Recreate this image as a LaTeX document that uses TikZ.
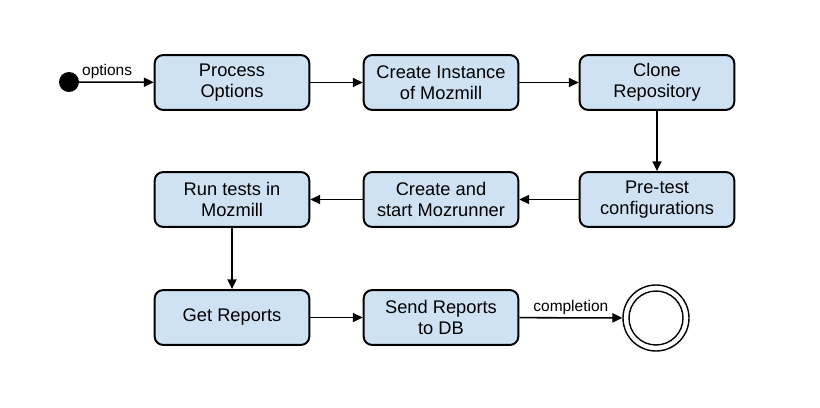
\documentclass[tikz,border=0pt]{standalone}
\usepackage{fontspec}
\setmainfont{Liberation Sans}
\usepackage{xcolor}
\usetikzlibrary{arrows.meta}
\definecolor{boxblue}{HTML}{CFE2F3}
\tikzset{every node/.append style={font=\fontsize{13}{15}\selectfont}}
\tikzset{
  stepbox/.style={draw, line width=1.4pt, fill=boxblue, rounded corners=6pt,
    minimum width=110pt, minimum height=39pt, align=center, inner sep=2pt},
  flow/.style={-{Triangle[length=7pt,width=6.5pt]}, line width=1.1pt},
  tag/.style={font=\fontsize{11}{13}\selectfont}
}

\begin{document}
\begin{tikzpicture}[x=0.025cm, y=-0.025cm]
    \useasboundingbox (0,0) rectangle (820,407);
    % start and end states
    \fill (69,82) circle[radius=10] coordinate (start);
    \node[draw, circle, line width=1pt, minimum size=66*0.025cm] (stop) at (656,318) {};
    \node[draw, circle, line width=1pt, minimum size=54*0.025cm] at (656,318) {};
    % row 1
    \node[stepbox] (proc) at (232,82.5) {Process\\Options};
    \node[stepbox] (inst) at (441,82.5) {Create Instance\\of Mozmill};
    \node[stepbox] (clone) at (657,82.5) {Clone\\Repository};
    % row 2
    \node[stepbox] (run) at (232,199.5) {Run tests in\\Mozmill};
    \node[stepbox] (runner) at (441,199.5) {Create and\\start Mozrunner};
    \node[stepbox] (pre) at (657,199.5) {Pre-test\\configurations};
    % row 3
    \node[stepbox] (get) at (232,317.5) {Get Reports};
    \node[stepbox] (send) at (441,317.5) {Send Reports\\to DB};
    % transitions
    \draw[flow] (start) -- node[tag, above, pos=0.45, inner sep=2pt] {options} (proc);
    \draw[flow] (proc) -- (inst);
    \draw[flow] (inst) -- (clone);
    \draw[flow] (clone) -- (pre);
    \draw[flow] (pre) -- (runner);
    \draw[flow] (runner) -- (run);
    \draw[flow] (run) -- (get);
    \draw[flow] (get) -- (send);
    \draw[flow] (send) -- node[tag, above, inner sep=2pt] {completion} (stop);
\end{tikzpicture}
\end{document}
